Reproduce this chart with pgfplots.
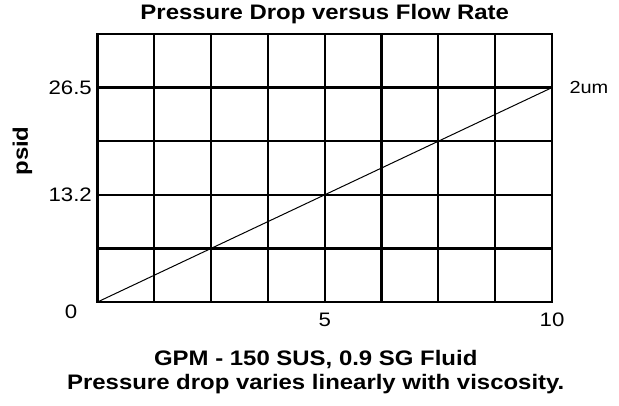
\documentclass[border=0pt]{standalone}
\usepackage{pgfplots}
\pgfplotsset{compat=1.18}
\usepackage{fontspec}
\setmainfont[FakeStretch=1.14]{Liberation Sans}
\begin{document}
\begin{tikzpicture}
\begin{axis}[
  scale only axis,
  width=454.5bp, height=268bp,
  xmin=0, xmax=10, ymin=0, ymax=33.125,
  xtick={0,1.25,2.5,3.75,5,6.25,7.5,8.75,10},
  xticklabels={,,,,5,,,,10},
  ytick={0,6.625,13.25,19.875,26.5,33.125},
  yticklabels={,,13.2,,26.5,},
  major tick length=0pt,
  grid=major,
  major grid style={line width=2.2bp, black},
  axis line style={line width=2.2bp, black},
  /pgf/number format/assume math mode=true,
  ticklabel style={font=\fontsize{19.5bp}{22bp}\selectfont},
  xticklabel style={inner sep=0pt, anchor=north, yshift=-11bp},
  yticklabel style={inner sep=0pt, anchor=east, xshift=-5.5bp},
  title={Pressure Drop versus Flow Rate},
  title style={font=\fontsize{21bp}{25bp}\selectfont\bfseries, at={(axis description cs:0.5,1)}, anchor=base, inner sep=0pt, yshift=9bp},
  xlabel={GPM - 150 SUS, 0.9 SG Fluid},
  xlabel style={font=\fontsize{21bp}{25bp}\selectfont\bfseries, at={(axis description cs:0.5,0)}, anchor=base, inner sep=0pt, yshift=-63bp, xshift=-9bp},
  clip=false,
]
\addplot[black, line width=1bp] coordinates {(0,0) (10,26.5)}
  node[pos=1, anchor=west, inner sep=0pt, xshift=17bp, font=\fontsize{17.5bp}{20bp}\selectfont] {2um};
\node[font=\fontsize{19.5bp}{22bp}\selectfont, inner sep=0pt] at ([xshift=-26.5bp,yshift=-10bp]axis cs:0,0) {0};
\end{axis}
\node[rotate=90, anchor=base, inner sep=0pt, font=\fontsize{21bp}{25bp}\selectfont\bfseries] at ([xshift=-69.5bp,yshift=17bp]current axis.west) {psid};
\node[anchor=base, inner sep=0pt, font=\fontsize{21bp}{25bp}\selectfont\bfseries] at ([xshift=-9bp,yshift=-87bp]current axis.south) {Pressure drop varies linearly with viscosity.};
\pgfresetboundingbox
\path ([xshift=-97.5bp,yshift=-104bp]current axis.south west) rectangle ([xshift=67bp,yshift=34bp]current axis.north east);
\end{tikzpicture}
\end{document}
